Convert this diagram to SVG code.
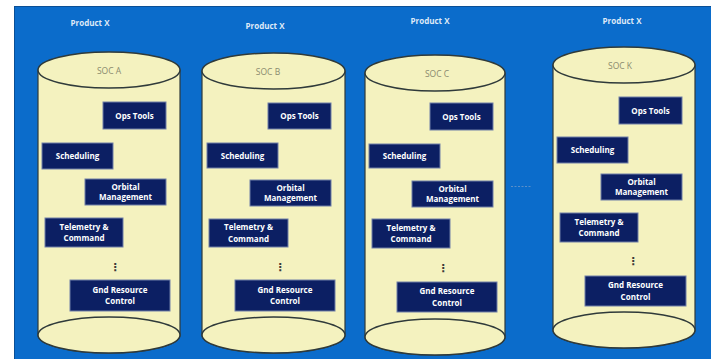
<svg xmlns="http://www.w3.org/2000/svg" width="711" height="359" viewBox="0 0 711 359">
<style>
.bg{fill:#0b6ccb}
.body{fill:#f4f2bf;stroke:#2f3a3a;stroke-width:1.2}
.cap{fill:#f4f2bf;stroke:#2f3a3a;stroke-width:1.5}
.box{fill:#0c1f63;stroke:#6f7fa8;stroke-width:1}
.bt{font-family:"Open Sans","Liberation Sans",sans-serif;font-weight:bold;font-size:8px;fill:#ffffff;text-anchor:middle}
.pt{font-family:"Open Sans","Liberation Sans",sans-serif;font-weight:bold;font-size:8px;fill:#dfe9f7;text-anchor:middle}
.st{font-family:"Open Sans","Liberation Sans",sans-serif;font-size:8.5px;fill:#8a8a6e;text-anchor:middle}
.dots{font-family:"DejaVu Sans",sans-serif;font-size:11px;font-weight:bold;fill:#3a3a3a;text-anchor:middle}
</style>
<rect x="0" y="0" width="711" height="359" fill="#ffffff"/>
<rect class="bg" x="14" y="6" width="697" height="353"/>
<line x1="14.5" y1="6" x2="14.5" y2="359" stroke="#0a4f96" stroke-width="1"/>
<line x1="14" y1="6.5" x2="711" y2="6.5" stroke="#0a4f96" stroke-width="1"/>

<g id="label-product-a"><text class="pt" x="90" y="26">Product X</text></g>
<g id="label-product-b"><text class="pt" x="265" y="29">Product X</text></g>
<g id="label-product-c"><text class="pt" x="430" y="24">Product X</text></g>
<g id="label-product-k"><text class="pt" x="622" y="24">Product X</text></g>

<g id="soc-a">
<path class="body" d="M38,70 L38,335 A71,18 0 0 0 180,335 L180,70 Z"/>
<ellipse class="cap" cx="109" cy="335" rx="71" ry="18"/>
<ellipse class="cap" cx="109" cy="70" rx="71" ry="18"/>
<text class="st" x="109" y="74">SOC A</text>
</g>
<g id="soc-b">
<path class="body" d="M202,71 L202,335 A71.5,18 0 0 0 345,335 L345,71 Z"/>
<ellipse class="cap" cx="273.5" cy="335" rx="71.5" ry="18"/>
<ellipse class="cap" cx="273.5" cy="71" rx="71.5" ry="18"/>
<text class="st" x="268" y="75">SOC B</text>
</g>
<g id="soc-c">
<path class="body" d="M365,73 L365,337 A70,18 0 0 0 505,337 L505,73 Z"/>
<ellipse class="cap" cx="435" cy="337" rx="70" ry="18"/>
<ellipse class="cap" cx="435" cy="73" rx="70" ry="18"/>
<text class="st" x="437" y="77">SOC C</text>
</g>
<g id="soc-k">
<path class="body" d="M553,65 L553,330 A71,18 0 0 0 695,330 L695,65 Z"/>
<ellipse class="cap" cx="624" cy="330" rx="71" ry="18"/>
<ellipse class="cap" cx="624" cy="65" rx="71" ry="18"/>
<text class="st" x="620" y="69">SOC K</text>
</g>

<g id="a-ops"><rect class="box" x="103" y="102" width="63" height="27"/><text class="bt" x="134.5" y="118.5">Ops Tools</text></g>
<g id="a-sched"><rect class="box" x="42" y="143" width="71" height="26"/><text class="bt" x="77.5" y="159">Scheduling</text></g>
<g id="a-orb"><rect class="box" x="85" y="179" width="81" height="26"/><text class="bt" x="125.5" y="189.5">Orbital</text><text class="bt" x="125.5" y="200">Management</text></g>
<g id="a-tel"><rect class="box" x="45" y="218" width="78" height="29"/><text class="bt" x="84" y="229.5">Telemetry &amp;</text><text class="bt" x="84" y="241">Command</text></g>
<text class="dots" x="115" y="271">⋮</text>
<g id="a-gnd"><rect class="box" x="70" y="280" width="100" height="31"/><text class="bt" x="120" y="292.5">Gnd Resource</text><text class="bt" x="120" y="304">Control</text></g>

<g id="b-ops"><rect class="box" x="268" y="103" width="63" height="26"/><text class="bt" x="299.5" y="119">Ops Tools</text></g>
<g id="b-sched"><rect class="box" x="207" y="143" width="71" height="25"/><text class="bt" x="242.5" y="158.5">Scheduling</text></g>
<g id="b-orb"><rect class="box" x="250" y="180" width="81" height="26"/><text class="bt" x="290.5" y="190.5">Orbital</text><text class="bt" x="290.5" y="201">Management</text></g>
<g id="b-tel"><rect class="box" x="209" y="219" width="79" height="28"/><text class="bt" x="248.5" y="230">Telemetry &amp;</text><text class="bt" x="248.5" y="241.5">Command</text></g>
<text class="dots" x="280" y="271">⋮</text>
<g id="b-gnd"><rect class="box" x="235" y="280" width="100" height="31"/><text class="bt" x="285" y="292.5">Gnd Resource</text><text class="bt" x="285" y="304">Control</text></g>

<g id="c-ops"><rect class="box" x="430" y="103" width="63" height="27"/><text class="bt" x="461.5" y="119.5">Ops Tools</text></g>
<g id="c-sched"><rect class="box" x="369" y="144" width="71" height="24"/><text class="bt" x="404.5" y="159">Scheduling</text></g>
<g id="c-orb"><rect class="box" x="412" y="181" width="81" height="26"/><text class="bt" x="452.5" y="191.5">Orbital</text><text class="bt" x="452.5" y="202">Management</text></g>
<g id="c-tel"><rect class="box" x="372" y="219" width="78" height="29"/><text class="bt" x="411" y="230.5">Telemetry &amp;</text><text class="bt" x="411" y="242">Command</text></g>
<text class="dots" x="443" y="272">⋮</text>
<g id="c-gnd"><rect class="box" x="397" y="282" width="100" height="30"/><text class="bt" x="447" y="294">Gnd Resource</text><text class="bt" x="447" y="305.5">Control</text></g>

<g id="k-ops"><rect class="box" x="619" y="97" width="63" height="27"/><text class="bt" x="650.5" y="113.5">Ops Tools</text></g>
<g id="k-sched"><rect class="box" x="557" y="137" width="71" height="26"/><text class="bt" x="592.5" y="153">Scheduling</text></g>
<g id="k-orb"><rect class="box" x="601" y="174" width="81" height="26"/><text class="bt" x="641.5" y="184.5">Orbital</text><text class="bt" x="641.5" y="195">Management</text></g>
<g id="k-tel"><rect class="box" x="560" y="213" width="78" height="29"/><text class="bt" x="599" y="224.5">Telemetry &amp;</text><text class="bt" x="599" y="236">Command</text></g>
<text class="dots" x="633" y="265">⋮</text>
<g id="k-gnd"><rect class="box" x="585" y="276" width="101" height="30"/><text class="bt" x="635.5" y="288">Gnd Resource</text><text class="bt" x="635.5" y="299.5">Control</text></g>

<g id="connectors">
<line x1="511" y1="186.5" x2="532" y2="186.5" stroke="#5a8fc8" stroke-width="1" stroke-dasharray="2,1.5"/>
</g>
</svg>
